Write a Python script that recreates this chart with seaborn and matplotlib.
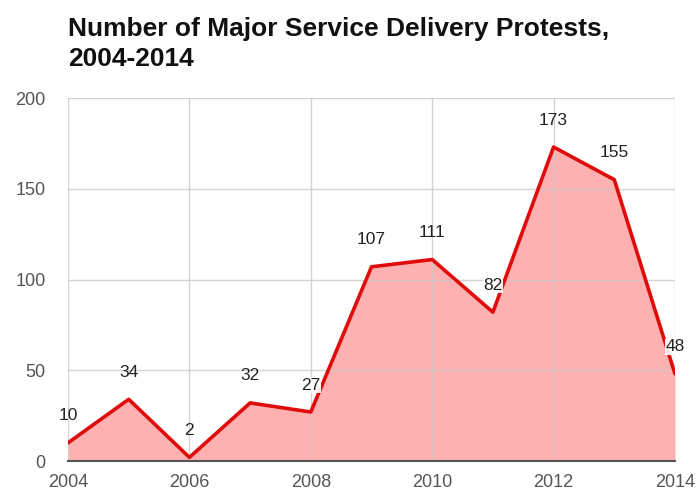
import matplotlib
matplotlib.use("Agg")
import matplotlib.pyplot as plt
import seaborn as sns
import pandas as pd

years = [2004, 2005, 2006, 2007, 2008, 2009, 2010, 2011, 2012, 2013, 2014]
protests = [10, 34, 2, 32, 27, 107, 111, 82, 173, 155, 48]
x_ticks = [2004, 2006, 2008, 2010, 2012, 2014]
y_ticks = [0, 50, 100, 150, 200]
title = "Number of Major Service Delivery Protests,\n2004-2014"
boxed_labels = {27, 82, 48}

df = pd.DataFrame({"year": years, "protests": protests})

sns.set_style("white")
plt.rcParams['font.family'] = ['Liberation Sans', 'DejaVu Sans']

fig = plt.figure(figsize=(6.97, 4.93), dpi=100)
ax = fig.add_axes([0.0976, 0.0649, 0.8708, 0.7363])

ax.fill_between(df["year"], df["protests"], 0, color="#ffb0b0", zorder=1, linewidth=0)
for yv in y_ticks[1:]:
    ax.axhline(yv, color="#c8c8c8", lw=1, zorder=1.5, alpha=0.8)
for xv in x_ticks:
    ax.axvline(xv, color="#c8c8c8", lw=1, zorder=1.5, alpha=0.8)
sns.lineplot(data=df, x="year", y="protests", ax=ax, color="#e00c0c", lw=2.6, zorder=3)

for xv, yv in zip(years, protests):
    kw = {}
    if yv in boxed_labels:
        kw["bbox"] = dict(facecolor="white", edgecolor="none", pad=0.5, alpha=0.9)
    ax.annotate(str(yv), (xv, yv), xytext=(0, 14), textcoords="offset points",
                ha="center", va="bottom", fontsize=12.5, color="#222222", zorder=4, **kw)

ax.set_xlim(2004, 2014)
ax.set_ylim(0, 200)
ax.set_xticks(x_ticks)
ax.set_yticks(y_ticks)
ax.tick_params(axis="x", labelsize=13, labelcolor="#555555", length=0, pad=9)
ax.tick_params(axis="y", labelsize=13, labelcolor="#555555", length=0, pad=16)
ax.set_xlabel("")
ax.set_ylabel("")
for s in ["left", "right", "top"]:
    ax.spines[s].set_visible(False)
ax.spines["bottom"].set_color("#555555")
ax.spines["bottom"].set_linewidth(1.5)
ax.spines["bottom"].set_zorder(5)

fig.text(0.0976, 0.965, title, ha="left", va="top", fontsize=19, fontweight="bold",
         color="#111111", linespacing=1.3)

fig.savefig("out.png", dpi=100)
